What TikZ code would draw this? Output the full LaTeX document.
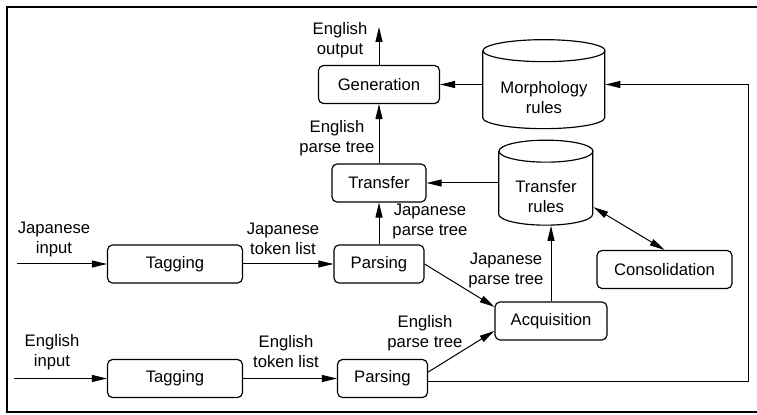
\documentclass[tikz,border=0pt]{standalone}
\usepackage{fontspec}
\setmainfont{Liberation Sans}
\usetikzlibrary{arrows.meta}

\begin{document}
\begin{tikzpicture}[x=0.6pt,y=-0.6pt,
  box/.style={draw,line width=0.7pt,rounded corners=3pt,minimum height=22.8pt,inner sep=0pt},
  base/.style={inner sep=0pt},
  lbl/.style={align=center,inner sep=0pt},
  arr/.style={-{Triangle[length=9pt,width=4.2pt]},line width=0.6pt},
  darr/.style={{Triangle[length=9pt,width=4.2pt]}-{Triangle[length=9pt,width=4.2pt]},line width=0.6pt}]
\useasboundingbox (0,0) rectangle (757,415);
\draw[line width=0.9pt] (757,7) -- (7,7) -- (7,412) -- (757,412);

% boxes
\node[box,minimum width=72.6pt] (gen) at (379,84.5) {Generation};
\node[box,minimum width=56.4pt] (transf) at (379,183) {Transfer};
\node[box,minimum width=54pt] (parseJ) at (379,264) {Parsing};
\node[box,minimum width=81pt] (tagJ) at (175,264) {Tagging};
\node[box,minimum width=81pt] (tagE) at (175,378.5) {Tagging};
\node[box,minimum width=54pt] (parseE) at (382.5,378.5) {Parsing};
\node[box,minimum width=67.2pt] (acq) at (551,321) {Acquisition};
\node[box,minimum width=81pt] (cons) at (664.5,269.5) {Consolidation};

% rule bases (cylinders)
\node[base,minimum width=73.2pt,minimum height=53.4pt] (morph) at (544,84.5) {};
\draw[line width=0.7pt] (morph.north west) ++(0,11) -- ++(0,67)
  arc[start angle=180,end angle=0,x radius=61,y radius=11] -- ++(0,-67);
\draw[line width=0.7pt] (morph.north) ++(0,11) ellipse[x radius=61,y radius=11];
\node[lbl] (morphtxt) at (544,97.5) {Morphology\\rules};

\node[base,minimum width=56.4pt,minimum height=51pt] (trules) at (546,183) {};
\draw[line width=0.7pt] (trules.north west) ++(0,11) -- ++(0,63)
  arc[start angle=180,end angle=0,x radius=47,y radius=11] -- ++(0,-63);
\draw[line width=0.7pt] (trules.north) ++(0,11) ellipse[x radius=47,y radius=11];
\node[lbl] (trulestxt) at (546,197) {Transfer\\rules};

% loose ends
\coordinate (outc) at (379,27);
\coordinate (inJ) at (17,264);
\coordinate (inE) at (14,378.5);
\coordinate (ecorner) at (748,382);

% labels
\node[lbl] (lOut) at (340,40) {English\\output};
\node[lbl] (lEpt) at (337,138) {English\\parse tree};
\node[lbl] (lJpt) at (430,221) {Japanese\\parse tree};
\node[lbl] (lJin) at (54,239) {Japanese\\input};
\node[lbl] (lJtok) at (283,239) {Japanese\\token list};
\node[lbl] (lEin) at (52,352) {English\\input};
\node[lbl] (lEtok) at (286,352) {English\\token list};
\node[lbl] (lJacq) at (506,270) {Japanese\\parse tree};
\node[lbl] (lEacq) at (425,333) {English\\parse tree};

% connectors
\draw[arr] (gen.north) -- (outc);
\draw[arr] (transf.north) -- (gen.south);
\draw[arr] (morph.west) -- (gen.east);
\draw[arr] (trules.west) -- (transf.east);
\draw[arr] (parseJ.north) -- (transf.south);
\draw[arr] (inJ) -- (tagJ.west);
\draw[arr] (tagJ.east) -- (parseJ.west);
\draw[arr] (inE) -- (tagE.west);
\draw[arr] (tagE.east) -- (parseE.west);
\draw[arr] (parseJ.east) -- (acq.166);
\draw[arr] (parseE.8) -- (acq.190);
\draw[arr] (acq.north) -- (acq.north |- trules.south);
\draw[darr] (trules.-27) -- (cons.north);
\draw[arr] (parseE.east |- ecorner) -- (ecorner) |- (morph.east);
\end{tikzpicture}
\end{document}
